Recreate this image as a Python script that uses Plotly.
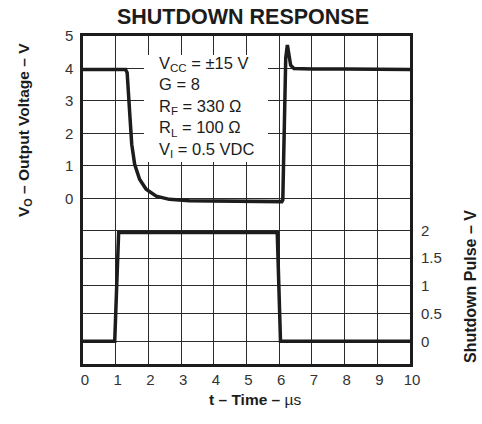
import plotly.graph_objects as go

# Output voltage trace (left axis), time in microseconds
t_out = [0, 0.5, 1.0, 1.30, 1.35, 1.40, 1.44, 1.49, 1.58, 1.73, 1.93, 2.24, 2.64,
         3.25, 4.0, 5.0, 6.08, 6.11, 6.13, 6.16, 6.20, 6.25, 6.30, 6.35, 6.45,
         7.0, 8.0, 9.0, 10.0]
v_out = [3.97, 3.97, 3.97, 3.97, 3.87, 3.22, 2.45, 1.67, 1.05, 0.59, 0.28, 0.07, -0.03,
         -0.07, -0.08, -0.09, -0.10, -0.05, 1.10, 3.10, 4.33, 4.72, 4.36, 4.10, 4.00,
         3.98, 3.98, 3.97, 3.97]

# Shutdown pulse (right axis)
t_pulse = [0, 0.97, 1.09, 5.94, 6.04, 10.0]
v_pulse = [0, 0, 1.96, 1.96, 0, 0]

x_ticks = list(range(0, 11))
left_ticks = [0, 1, 2, 3, 4, 5]
right_ticks = [0, 0.5, 1, 1.5, 2]
right_labels = ["0", "0.5", "1", "1.5", "2"]

W, H = 482, 424
ML, MR, MT, MB = 83, 72, 36, 60
PW, PH = W - ML - MR, H - MT - MB


def px(x):
    return (x - ML) / PW


def py(y):
    return 1 - (y - MT) / PH


FONT = "Arial, Liberation Sans, Helvetica, sans-serif"
INK = "#1c1c1c"
GRID = "#2a2a2a"

fig = go.Figure()
fig.add_trace(go.Scatter(x=t_out, y=v_out, mode="lines", yaxis="y",
                         line=dict(color=INK, width=3.5), hoverinfo="skip"))
fig.add_trace(go.Scatter(x=t_pulse, y=v_pulse, mode="lines", yaxis="y2",
                         line=dict(color=INK, width=3.5), hoverinfo="skip"))

# white panel behind the test conditions
fig.add_annotation(xref="paper", yref="paper", x=px(144), y=py(55),
                   xanchor="left", yanchor="top", showarrow=False,
                   text=" ", width=124, height=107, borderpad=0,
                   bgcolor="white", borderwidth=0)

fig.add_annotation(
    xref="paper", yref="paper", x=px(157), y=py(52), xanchor="left", yanchor="top",
    align="left", showarrow=False,
    text=("V<sub>CC</sub> = ±15 V<br>G = 8<br>R<sub>F</sub> = 330 Ω<br>"
          "R<sub>L</sub> = 100 Ω<br>V<sub>I</sub> = 0.5 VDC"),
    font=dict(family=FONT, size=16.5, color=INK))

# axis titles
fig.add_annotation(xref="paper", yref="paper", x=px(255), y=py(399),
                   xanchor="center", yanchor="middle",
                   text="<b>t – Time – </b>µs", showarrow=False,
                   font=dict(family=FONT, size=15.5, color=INK))
fig.add_annotation(xref="paper", yref="paper", x=px(24), y=py(130), textangle=-90,
                   xanchor="center", yanchor="middle",
                   text="<b>V<sub>O</sub> – Output Voltage – V</b>", showarrow=False,
                   font=dict(family=FONT, size=15.5, color=INK))
fig.add_annotation(xref="paper", yref="paper", x=px(470), y=py(287), textangle=-90,
                   xanchor="center", yanchor="middle",
                   text="<b>Shutdown Pulse – V</b>", showarrow=False,
                   font=dict(family=FONT, size=16, color=INK))

fig.update_layout(
    width=W, height=H,
    margin=dict(l=ML, r=MR, t=MT, b=MB),
    paper_bgcolor="white", plot_bgcolor="white",
    showlegend=False,
    title=dict(text="<b>SHUTDOWN RESPONSE</b>", x=243 / W, xref="container",
               xanchor="center", y=1 - 16 / H, yref="container", yanchor="middle",
               font=dict(family=FONT, size=21.5, color=INK)),
    xaxis=dict(range=[0, 10], tickvals=x_ticks, showgrid=True, gridcolor=GRID,
               gridwidth=1.2, zeroline=False, showline=True, mirror=True,
               linecolor=INK, linewidth=2.5, ticks="", ticklabelstandoff=0,
               ticklabelshift=2,
               tickfont=dict(family=FONT, size=15, color="#333333")),
    yaxis=dict(range=[-5.1, 5], tickvals=left_ticks, showgrid=True, gridcolor=GRID,
               gridwidth=1.2, zeroline=False, showline=True, mirror=True,
               linecolor=INK, linewidth=2.5, ticks="", ticklabelstandoff=4,
               tickfont=dict(family=FONT, size=15, color="#333333")),
    yaxis2=dict(range=[-0.41, 5.5], tickvals=right_ticks, ticktext=right_labels,
                overlaying="y", side="right", showgrid=True, gridcolor=GRID,
                gridwidth=1.2, zeroline=False, showline=False, ticks="",
                ticklabelstandoff=10,
                tickfont=dict(family=FONT, size=15, color="#333333")),
)

fig.write_html("out.html")
